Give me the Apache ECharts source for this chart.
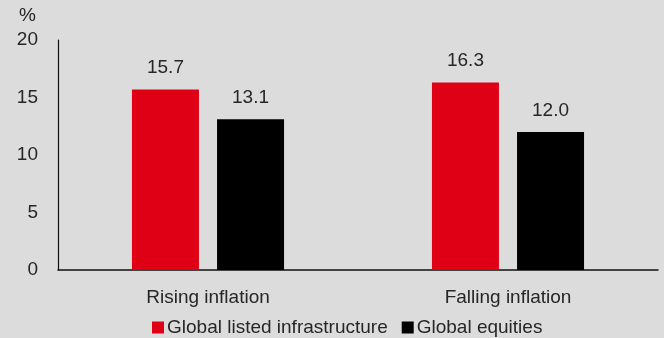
<!DOCTYPE html>
<html><head><meta charset="utf-8">
<script src="https://cdn.jsdelivr.net/npm/echarts@6/dist/echarts.min.js"></script>
<style>html,body{margin:0;padding:0;background:#dcdcdc}#c{width:664px;height:338px}</style>
</head><body><div id="c"></div>
<script>
const categories = ['Rising inflation', 'Falling inflation'];
const infra = [15.7, 16.3];
const equities = [13.1, 12.0];
const seriesNames = ['Global listed infrastructure', 'Global equities'];
const yTicks = [0, 5, 10, 15, 20];

const FONT = '"Liberation Sans", Arial, sans-serif';
const TXT = '#262626';
const FS = 19;
const chart = echarts.init(document.getElementById('c'), null, {renderer: 'canvas'});
const lbl = {show: true, position: 'top', distance: 12, color: TXT, fontSize: FS, fontFamily: FONT, formatter: p => p.value.toFixed(1)};
chart.setOption({
  backgroundColor: '#dcdcdc',
  animation: false,
  grid: {left: 58, right: 6, top: 40, bottom: 68, containLabel: false},
  legend: {
    top: 318, left: 152, itemWidth: 12, itemHeight: 12, itemGap: 14, padding: 0,
    icon: 'rect',
    textStyle: {fontSize: FS, fontFamily: FONT, color: TXT, padding: [0, 0, 0, -2]},
    data: seriesNames
  },
  xAxis: {
    type: 'category', data: categories,
    axisLine: {lineStyle: {color: '#111', width: 1.5}},
    axisTick: {show: false},
    axisLabel: {fontSize: FS, fontFamily: FONT, color: TXT, margin: 18}
  },
  yAxis: {
    type: 'value', min: 0, max: 20, interval: 5,
    name: '%', nameLocation: 'end', nameGap: 15,
    nameTextStyle: {fontSize: FS, fontFamily: FONT, color: TXT, align: 'right', padding: [0, 22, 0, 0]},
    axisLine: {show: true, lineStyle: {color: '#111', width: 1.2}},
    axisTick: {show: false},
    splitLine: {show: false},
    axisLabel: {fontSize: FS, fontFamily: FONT, color: TXT, margin: 20,
      formatter: v => yTicks.includes(v) ? String(v) : ''}
  },
  series: [
    {name: seriesNames[0], type: 'bar', data: infra, barWidth: 67, barGap: '27%', itemStyle: {color: '#e00016'}, label: lbl},
    {name: seriesNames[1], type: 'bar', data: equities, barWidth: 67, itemStyle: {color: '#000000'}, label: lbl}
  ]
});
</script></body></html>
